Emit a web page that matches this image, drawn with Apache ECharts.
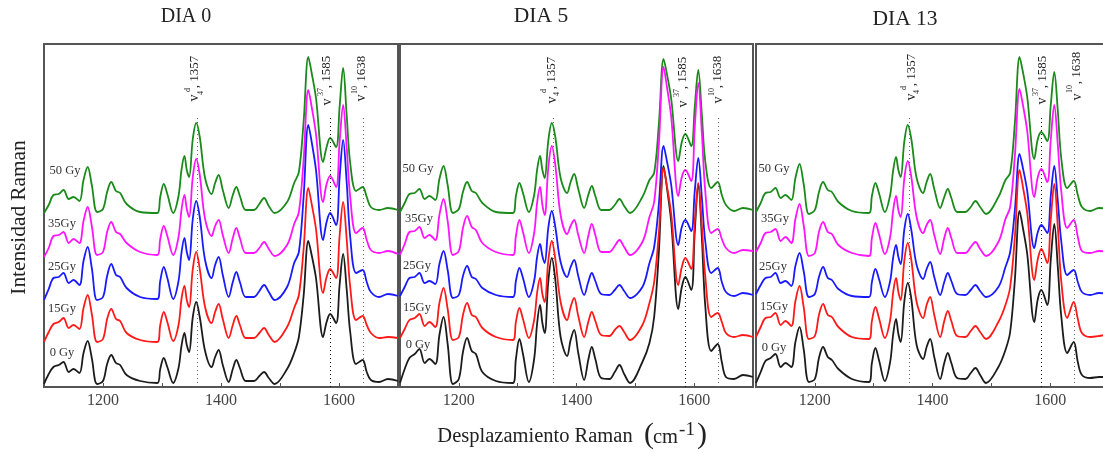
<!DOCTYPE html>
<html><head><meta charset="utf-8">
<style>html,body{margin:0;padding:0;background:#fff;overflow:hidden}#c{width:1103px;height:453px}</style>
<script src="https://cdn.jsdelivr.net/npm/echarts@6/dist/echarts.min.js"></script>
</head><body><div id="c"></div>
<script>
const ramanShift=[1100,1108,1116,1125,1133,1142,1150,1160,
1167,1174,1181,1190,
1200,1207,1214,1222,1229,1240,1263,1292,
1297,1303,1309,1319,1328,
1333,1338,1342,1346,1352,1358,1364,1373,1384,
1390,1396,1403,1413,
1420,1426,1432,1442,1456,
1465,1473,1481,1491,
1512,1524,1532,1540,
1548,1554,1561,1573,1579,1585,1595,
1601,1607,1613,1619,1629,
1640,1647,1654,1668,1683,1700];
const tickLabels=[1200,1400,1600];
const doses=['0 Gy','15Gy','25Gy','35Gy','50 Gy'];
const panelTitles=['DIA 0','DIA 5','DIA 13'];
const bandPositions=[1360,1585,1641];
const bandLabels=[[ 'd','4',', 1357'],['37','',', 1585'],['10','',', 1638']];

const green0=[174,182,192,193,197,188,190,186, 207,220,202,175, 178,195,205,196,194,183,175,174, 190,203,193,174,191, 217,231,217,210,247,264,250,209,193, 204,212,197,179, 192,200,191,177,177, 183,189,181,174, 185,204,215,265, 330,313,289,225,240,249,240, 280,319,272,224,196, 200,190,180,177,179,177];
const magenta0=[130,139,151,152,155,144,148,144, 166,180,161,132, 135,155,165,155,153,144,135,132, 148,161,151,132,150, 177,192,178,170,209,228,212,168,151, 161,167,152,134, 149,159,149,134,134, 139,145,138,131, 142,163,175,227, 297,279,253,185,203,211,200, 245,282,240,190,154, 159,147,137,134,136,133];
const blue0=[87,98,109,110,114,104,107,102, 126,140,119,87, 90,111,123,112,110,99,90,88, 106,120,109,88,106, 134,149,135,127,167,186,170,127,109, 122,130,112,90, 105,115,105,90,90, 96,102,95,87, 100,124,135,190, 262,244,217,147,165,174,162, 209,247,205,150,114, 117,105,95,90,93,91];
const red0=[45,55,63,65,69,59,62,58, 79,92,73,45, 48,68,78,68,66,54,47,45, 62,75,65,46,62, 88,101,87,80,117,135,118,80,64, 75,83,68,49, 62,71,62,49,49, 54,59,52,45, 60,79,92,138, 199,182,158,94,110,118,109, 151,185,148,100,67, 71,62,54,49,50,49];
const black0=[3,13,20,22,25,15,18,14, 34,46,29,3, 6,23,32,24,22,12,6,4, 18,29,20,4,19, 41,54,42,35,69,85,70,36,20, 30,37,22,5, 18,27,19,6,6, 11,15,9,3, 18,34,50,91, 146,131,109,50,65,73,64, 102,133,98,55,23, 27,15,7,5,8,6];

const green5=[175,184,193,194,198,188,191,187, 208,221,202,174, 178,195,205,196,194,184,175,174, 191,204,194,175,192, 217,231,217,209,246,264,250,209,194, 205,213,198,179, 192,201,191,177,177, 182,188,181,174, 190,207,214,263, 328,312,288,226,245,253,241, 280,317,273,225,199, 205,192,182,176,179,177];
const magenta5=[132,143,155,156,160,149,152,147, 172,188,166,132, 136,159,171,160,157,144,135,132, 151,167,155,134,154, 184,200,182,172,219,241,222,172,153, 161,167,152,134, 151,163,152,135,135, 141,147,140,132, 145,170,185,243, 320,299,270,191,210,217,206, 260,304,255,195,154, 158,148,139,134,137,136];
const blue5=[91,100,109,110,114,104,106,103, 123,136,117,89, 92,111,121,110,108,99,92,90, 106,119,109,90,106, 130,143,131,124,159,176,160,125,110, 120,127,111,92, 105,114,106,93,92, 97,102,96,89, 100,124,140,183, 241,225,202,142,160,167,156, 196,229,190,145,114, 119,105,95,91,94,92];
const red5=[49,58,67,69,73,61,65,60, 84,99,78,47, 50,72,84,72,70,59,50,47, 65,79,68,49,67, 94,109,93,85,126,146,128,85,67, 80,89,71,50, 65,75,66,52,51, 57,61,55,47, 62,84,105,154, 219,200,173,102,120,129,118, 165,204,162,110,70, 74,65,54,50,52,50];
const black5=[4,18,29,33,38,24,28,23, 52,70,43,3, 8,35,49,36,33,15,6,4, 28,48,33,5,28, 63,82,64,54,105,129,107,50,31, 47,57,34,7, 27,40,28,9,8, 15,22,13,4, 25,44,70,135, 221,198,165,78,100,110,97, 155,203,150,80,36, 43,25,10,8,12,10];

const green13=[175,184,194,195,199,189,192,187, 209,223,203,173, 177,195,205,197,195,185,176,174, 191,204,194,175,192, 216,230,217,210,245,262,248,209,194, 205,213,198,179, 190,198,189,175,175, 180,186,180,173, 190,207,214,264, 330,314,290,228,248,255,246, 282,315,276,228,199, 206,192,180,176,179,178];
const magenta13=[135,144,154,155,158,146,150,144, 168,183,162,131, 134,155,165,155,153,142,134,131, 149,164,153,133,150, 176,191,177,170,208,226,210,170,154, 162,167,152,133, 149,159,149,134,134, 140,145,138,131, 145,168,180,231, 298,281,256,190,210,218,205, 247,282,242,195,159, 167,150,136,134,136,135];
const blue13=[93,102,109,110,114,104,106,101, 121,134,116,90, 93,110,120,109,107,98,91,90, 105,118,108,90,106, 129,142,130,123,157,173,157,122,108, 118,125,110,92, 105,114,106,93,92, 97,102,96,90, 100,120,135,177, 233,218,196,139,155,162,154, 191,221,186,145,112, 117,105,95,92,94,93];
const red13=[50,60,69,70,74,62,66,61, 86,101,80,48, 51,72,83,72,70,60,50,48, 66,80,69,49,67, 94,109,95,87,126,144,127,85,69, 82,90,72,50, 66,76,66,51,50, 56,61,55,48, 65,82,100,150, 217,199,174,107,128,138,124, 167,203,160,105,69, 85,68,54,50,51,53];
const black13=[4,15,26,29,33,20,24,20, 45,60,38,5, 8,29,40,30,27,18,8,5, 24,39,27,6,25, 52,68,53,45,85,104,88,42,28, 40,48,30,8, 24,34,24,9,8, 14,19,12,4, 20,37,55,107, 176,158,133,65,88,97,82, 127,163,120,70,34, 45,25,12,9,10,10];

const SERIF='"Liberation Serif","Times New Roman",serif';
const panels=[
 {left:44,width:354,order:[[green0,'#1a8a1a'],[magenta0,'#ff14ff'],[blue0,'#1a1aff'],[red0,'#ff1a1a'],[black0,'#1c1c1c']]},
 {left:400,width:353,order:[[green5,'#1a8a1a'],[magenta5,'#ff14ff'],[blue5,'#1a1aff'],[black5,'#1c1c1c'],[red5,'#ff1a1a']]},
 {left:756,width:353,order:[[green13,'#1a8a1a'],[magenta13,'#ff14ff'],[blue13,'#1a1aff'],[red13,'#ff1a1a'],[black13,'#1c1c1c']]}
];
const grid=[],xAxis=[],yAxis=[],series=[];
panels.forEach((p,i)=>{
 grid.push({left:p.left,top:44,width:p.width,height:343,show:true,outerBoundsMode:'none',borderColor:'#555',borderWidth:2,backgroundColor:'transparent'});
 xAxis.push({type:'value',gridIndex:i,min:1100,max:1700,interval:100,
  axisLine:{show:true,onZero:false,lineStyle:{color:'#555',width:2}},
  axisTick:{show:true,inside:true,length:4,lineStyle:{color:'#555',width:1}},
  splitLine:{show:false},
  axisLabel:{fontFamily:SERIF,fontSize:16,color:'#444',margin:6,showMinLabel:true,showMaxLabel:true,
   formatter:v=>tickLabels.includes(v)?String(v):''}});
 yAxis.push({type:'value',gridIndex:i,min:0,max:343,show:false});
 p.order.forEach((s,j)=>{
  const o={type:'line',xAxisIndex:i,yAxisIndex:i,data:ramanShift.map((x,k)=>[x,s[0][k]]),
   smooth:0.35,showSymbol:false,symbol:'none',silent:true,clip:true,
   lineStyle:{color:s[1],width:1.8},z:3+j};
  if(j===0){o.markLine={silent:true,symbol:'none',animation:false,label:{show:false},
    lineStyle:{type:[1,3],color:'#555',width:1},
    data:bandPositions.map((b,n)=>[{coord:[b,0],lineStyle:{color:n===1?'#111':'#666',type:[1,3],width:1}},{coord:[b,269]}])};}
  series.push(o);
 });
});
function txt(t,x,y,size,rot,fill){return {type:'text',x:x,y:y,rotation:rot||0,z:20,
 style:{text:t,font:size+'px '+SERIF,fill:fill||'#333',align:'center',verticalAlign:'middle'}};}
const R=Math.PI/2, g=[];
[[186,17,20],[541,16,21.5],[905,19,21.5]].forEach((c,i)=>g.push(txt(panelTitles[i],c[0],c[1],c[2],0,'#222')));
g.push(txt('Intensidad Raman',19,217.5,21.3,R,'#222'));
g.push(txt('Desplazamiento Raman',535,437,20.5,0,'#222'));
g.push(txt('(',649,435,30,0,'#222'));
g.push(txt('cm',665.5,438,20.5,0,'#222'));
g.push(txt('-1',687,430,19,0,'#222'));
g.push(txt(')',702,435,30,0,'#222'));
[[[65,171],[62,224],[62,267],[62,309],[62,353]],
 [[418,169],[419,219],[417,266],[417,308],[418,345]],
 [[774,169],[775,219],[773,267],[774,307],[774,348]]].forEach(ps=>{
  ps.forEach((c,i)=>g.push(txt(doses[4-i],c[0],c[1],12.5,0,'#333')));
});
[[[[194,98],[188,90],[201,93],[195,72]],[[327,102],[321,92],null,[327,72]],[[361,98],[355,90],null,[362,72]]],
 [[[552,100],[544,91],[557,94],[552,73]],[[683,104],[677,93],null,[683,73]],[[718,100],[712,92],null,[718,72]]],
 [[[911,97],[904,88],[917,92],[912,70]],[[1042,101],[1036,92],null,[1043,72]],[[1077,97],[1070,89],null,[1077,68]]]
].forEach(pp=>{
 pp.forEach((b,i)=>{
  g.push(txt('v',b[0][0],b[0][1],14,R,'#222'));
  g.push(txt(bandLabels[i][0],b[1][0],b[1][1],8,R,'#222'));
  if(b[2])g.push(txt(bandLabels[i][1],b[2][0],b[2][1],8,R,'#222'));
  g.push(txt(bandLabels[i][2],b[3][0],b[3][1],13,R,'#222'));
 });
});
const chart=echarts.init(document.getElementById('c'),null,{renderer:'canvas'});
chart.setOption({animation:false,backgroundColor:'#fff',grid,xAxis,yAxis,series,graphic:{elements:g}});
</script></body></html>
